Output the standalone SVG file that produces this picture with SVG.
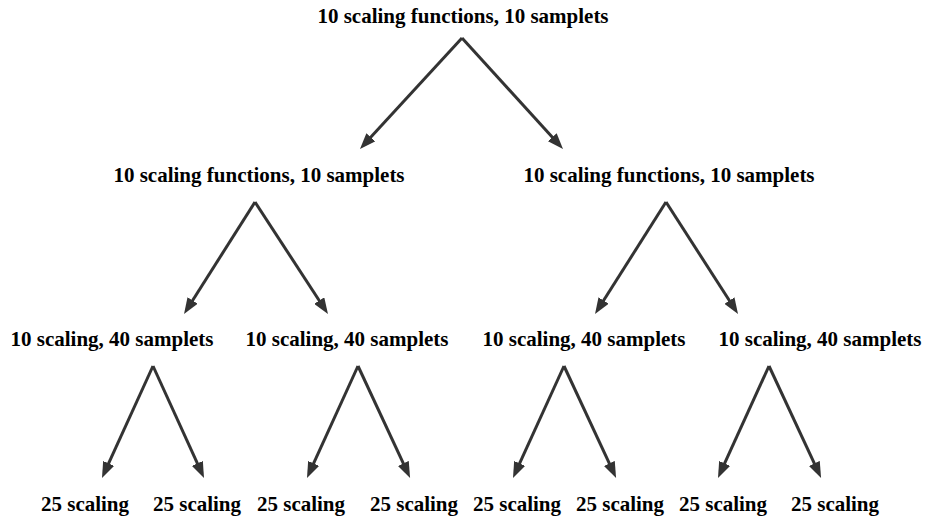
<svg xmlns="http://www.w3.org/2000/svg" width="925" height="518" viewBox="0 0 925 518">
<style>
text{font-family:"Liberation Serif","Times New Roman",serif;font-weight:bold;font-size:21px;fill:#000;text-anchor:middle}
.e{stroke:#333;stroke-width:3;fill:none}
</style>
<defs>
<marker id="ah" viewBox="0 0 16 12" refX="8" refY="6" markerWidth="16" markerHeight="12" markerUnits="userSpaceOnUse" orient="auto">
<path d="M0,0 L16,6 L0,12 z" fill="#333"/>
</marker>
</defs>
<rect width="925" height="518" fill="#fff"/>
<g id="n0"><text x="463" y="23">10 scaling functions, 10 samplets</text></g>
<g id="n1"><text x="259" y="182">10 scaling functions, 10 samplets</text></g>
<g id="n2"><text x="669" y="182">10 scaling functions, 10 samplets</text></g>
<g id="n3"><text x="112" y="346">10 scaling, 40 samplets</text></g>
<g id="n4"><text x="347" y="346">10 scaling, 40 samplets</text></g>
<g id="n5"><text x="584" y="346">10 scaling, 40 samplets</text></g>
<g id="n6"><text x="820" y="346">10 scaling, 40 samplets</text></g>
<g id="n7"><text x="85" y="511">25 scaling</text></g>
<g id="n8"><text x="197" y="511">25 scaling</text></g>
<g id="n9"><text x="301" y="511">25 scaling</text></g>
<g id="n10"><text x="414" y="511">25 scaling</text></g>
<g id="n11"><text x="517" y="511">25 scaling</text></g>
<g id="n12"><text x="620" y="511">25 scaling</text></g>
<g id="n13"><text x="723" y="511">25 scaling</text></g>
<g id="n14"><text x="835" y="511">25 scaling</text></g>
<g id="connectors" class="e">
<line x1="462" y1="38" x2="365.4" y2="143.1" marker-end="url(#ah)"/>
<line x1="462" y1="38" x2="557.6" y2="143.1" marker-end="url(#ah)"/>
<line x1="255" y1="202" x2="188.3" y2="307.2" marker-end="url(#ah)"/>
<line x1="255" y1="202" x2="323.6" y2="307.3" marker-end="url(#ah)"/>
<line x1="666" y1="202" x2="599.3" y2="307.3" marker-end="url(#ah)"/>
<line x1="666" y1="202" x2="733.7" y2="307.3" marker-end="url(#ah)"/>
<line x1="153" y1="366" x2="105.3" y2="470.7" marker-end="url(#ah)"/>
<line x1="153" y1="366" x2="200.7" y2="470.7" marker-end="url(#ah)"/>
<line x1="358" y1="366" x2="310.3" y2="470.7" marker-end="url(#ah)"/>
<line x1="358" y1="366" x2="406.7" y2="470.7" marker-end="url(#ah)"/>
<line x1="564" y1="366" x2="516.3" y2="470.7" marker-end="url(#ah)"/>
<line x1="564" y1="366" x2="612.7" y2="470.7" marker-end="url(#ah)"/>
<line x1="769" y1="366" x2="721.3" y2="470.7" marker-end="url(#ah)"/>
<line x1="769" y1="366" x2="817.7" y2="470.7" marker-end="url(#ah)"/>
</g>
</svg>
